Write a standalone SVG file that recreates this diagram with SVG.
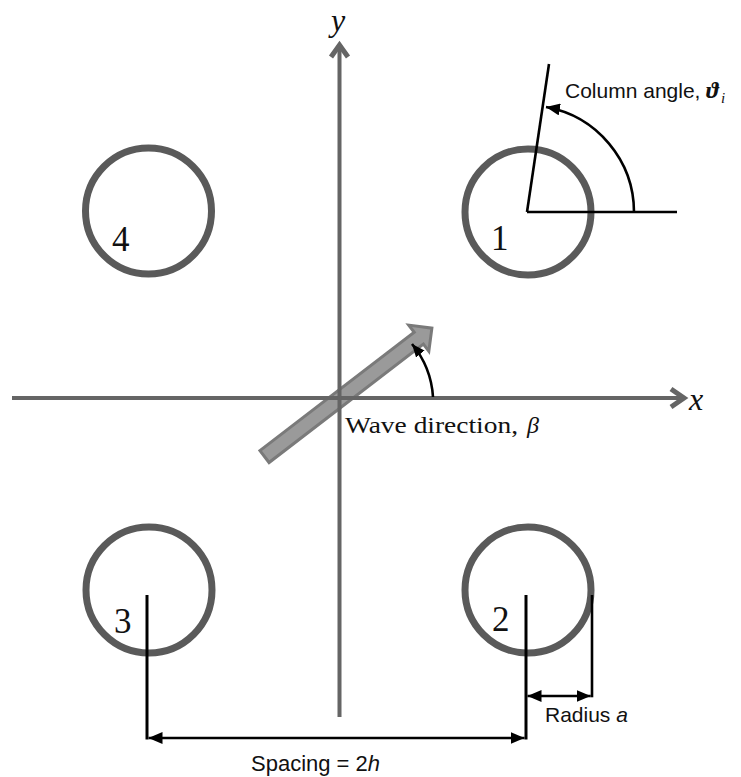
<svg xmlns="http://www.w3.org/2000/svg" width="741" height="777" viewBox="0 0 741 777">
<defs>
<style>
.axis{stroke:#656565;stroke-width:4;fill:none}
.chev{stroke:#656565;stroke-width:5;fill:none;stroke-linejoin:miter}
.col{fill:none;stroke:#5a5a5a;stroke-width:7}
.num{font-family:"Liberation Serif","Times New Roman",serif;font-size:35px;fill:#111}
.dim{stroke:#000;stroke-width:3;fill:none}
.thin{stroke:#000;stroke-width:2.6;fill:none}
.sans{font-family:"Liberation Sans",Arial,sans-serif;font-size:21px;fill:#111}
.serif{font-family:"Liberation Serif","Times New Roman",serif;fill:#111}
</style>
<marker id="ah" markerUnits="userSpaceOnUse" markerWidth="14" markerHeight="12" refX="14" refY="6" orient="auto-start-reverse" viewBox="0 0 14 12"><path d="M0,0 L14,6 L0,12 z" fill="#000"/></marker>
<marker id="ahs" markerUnits="userSpaceOnUse" markerWidth="13" markerHeight="11" refX="13" refY="5.5" orient="auto" viewBox="0 0 13 11"><path d="M0,0 L13,5.5 L0,11 z" fill="#000"/></marker>
</defs>
<rect width="741" height="777" fill="#fff"/>

<g id="wave-arrow">
<polygon transform="translate(263.3 457.5) rotate(-37.5)" points="1.5,-7.5 196,-7.5 196,-16.5 212.5,0 196,16.5 196,7.5 1.5,7.5" fill="#9a9a9a" stroke="#7a7a7a" stroke-width="3"/>
</g>

<g id="axes">
<line x1="12" y1="398" x2="683" y2="398" class="axis"/>
<polyline points="671,389 684,398 671,407" class="chev"/>
<line x1="339.5" y1="717" x2="339.5" y2="46" class="axis"/>
<polyline points="331,57 339.5,45 348,57" class="chev"/>
<text x="331" y="31" class="serif" font-size="32" font-style="italic">y</text>
<text x="689" y="410" class="serif" font-size="32" font-style="italic">x</text>
</g>

<g id="node-1">
<circle cx="528" cy="212" r="63" class="col"/>
<text x="491" y="250" class="num">1</text>
</g>
<g id="node-2">
<circle cx="528" cy="590" r="63" class="col"/>
<text x="492" y="631" class="num">2</text>
</g>
<g id="node-3">
<circle cx="149" cy="590" r="63" class="col"/>
<text x="114" y="633" class="num">3</text>
</g>
<g id="node-4">
<circle cx="148.5" cy="211" r="63" class="col"/>
<text x="112" y="251" class="num">4</text>
</g>

<g id="connectors">
<line x1="527" y1="212" x2="677" y2="212" class="thin"/>
<line x1="527" y1="212" x2="549" y2="64" class="thin"/>
<path d="M634,212 A107,107 0 0,0 546,107" class="thin" marker-end="url(#ah)"/>
<path d="M433,397 A92,92 0 0,0 412,344" class="thin" marker-end="url(#ahs)"/>
<line x1="147" y1="595" x2="147" y2="739.5" class="dim"/>
<line x1="526" y1="595" x2="526" y2="739.5" class="dim"/>
<line x1="592" y1="595" x2="592" y2="697.3" class="thin"/>
<line x1="148.5" y1="738" x2="524.5" y2="738" class="thin" marker-start="url(#ah)" marker-end="url(#ah)"/>
<line x1="527.5" y1="696" x2="590.7" y2="696" class="thin" marker-start="url(#ah)" marker-end="url(#ah)"/>
</g>

<g id="labels">
<text x="565" y="98" class="sans">Column angle,</text>
<text x="706" y="98" class="serif" font-size="24" font-style="italic" font-weight="bold">ϑ</text>
<text x="721" y="103" class="serif" font-size="15" font-style="italic">i</text>
<text x="345" y="433" class="serif" font-size="24" textLength="173" lengthAdjust="spacingAndGlyphs">Wave direction,</text>
<text x="527" y="433" class="serif" font-size="24" font-style="italic">β</text>
<text x="545" y="722" class="sans">Radius <tspan font-style="italic">a</tspan></text>
<text x="251" y="771" class="sans" style="font-size:22px">Spacing = 2<tspan font-style="italic">h</tspan></text>
</g>
</svg>
